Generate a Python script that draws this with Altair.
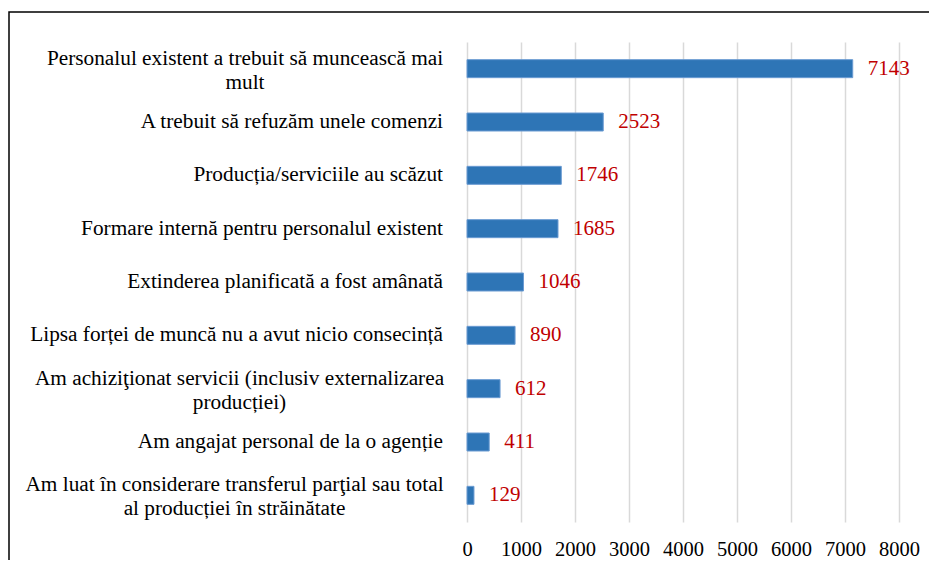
import altair as alt
import pandas as pd

categories = [
    "Personalul existent a trebuit să muncească mai\nmult",
    "A trebuit să refuzăm unele comenzi",
    "Producția/serviciile au scăzut",
    "Formare internă pentru personalul existent",
    "Extinderea planificată a fost amânată",
    "Lipsa forței de muncă nu a avut nicio consecință",
    "Am achiziţionat servicii (inclusiv externalizarea\nproducției)",
    "Am angajat personal de la o agenție",
    "Am luat în considerare transferul parţial sau total\nal producției în străinătate",
]
values = [7143, 2523, 1746, 1685, 1046, 890, 612, 411, 129]
x_ticks = [0, 1000, 2000, 3000, 4000, 5000, 6000, 7000, 8000]

FONT = "'Liberation Serif', 'Times New Roman', 'DejaVu Serif', serif"
W, H = 432, 480
LABEL_GAP = 24
LABEL_SIZE = 21.3
LINE_H = 24
LABEL_NUDGE = 2
# half widths (px) of the first line of each wrapped label, used to centre the block
FIRST_LINE_HALF = {0: 198, 6: 203.5, 8: 208.5}

df = pd.DataFrame({"cat": categories, "value": values})

y_enc = alt.Y("cat:N", sort=categories, axis=None,
              scale=alt.Scale(paddingInner=0, paddingOuter=0))

bars = alt.Chart(df).mark_bar(size=18, color="#2E75B6", stroke="#6A9BD2", strokeWidth=1).encode(
    x=alt.X("value:Q",
            scale=alt.Scale(domain=[0, 8000], nice=False),
            axis=alt.Axis(values=x_ticks, title=None, grid=True, ticks=False, domain=False,
                          format="d",
                          labelFont=FONT, labelFontSize=20.5, labelColor="black",
                          labelPadding=17, labelFlush=False,
                          gridColor="#d9d9d9", gridWidth=1.5)),
    y=y_enc,
)

vals = alt.Chart(df).mark_text(align="left", baseline="middle", dx=15, color="#C00000",
                               fontSize=21, font=FONT).encode(
    x="value:Q",
    y=y_enc,
    text=alt.Text("value:Q", format="d"),
)

single = [c for c in categories if "\n" not in c]
single_lab = alt.Chart(df).transform_filter(
    alt.FieldOneOfPredicate(field="cat", oneOf=single)
).mark_text(align="right", baseline="middle", fontSize=LABEL_SIZE, font=FONT, color="black").encode(
    x=alt.value(-LABEL_GAP),
    y=y_enc,
    text="cat:N",
)

layers = [bars, vals, single_lab]
for idx, half in FIRST_LINE_HALF.items():
    c = categories[idx]
    n_lines = c.count("\n") + 1
    lay = alt.Chart(df).transform_filter(
        alt.FieldEqualPredicate(field="cat", equal=c)
    ).mark_text(align="center", baseline="middle", fontSize=LABEL_SIZE, font=FONT, color="black",
                lineBreak="\n", lineHeight=LINE_H,
                dy=-(n_lines - 1) * LINE_H / 2 + LABEL_NUDGE).encode(
        x=alt.value(-(LABEL_GAP + half)),
        y=y_enc,
        text="cat:N",
    )
    layers.append(lay)

frame = alt.Chart(pd.DataFrame({"k": [0]})).mark_rect(
    fillOpacity=0, stroke="black", strokeWidth=1.5
).encode(
    x=alt.value(-458), x2=alt.value(800), y=alt.value(-30), y2=alt.value(800)
)
layers.append(frame)

chart = alt.layer(*layers).properties(
    width=W, height=H,
    autosize=alt.AutoSizeParams(type="none"),
    padding={"left": 459, "top": 34, "right": 30, "bottom": 38},
    background="white",
).configure_view(strokeWidth=0)

chart.save("out.html", embed_options={"renderer": "svg", "actions": False})
